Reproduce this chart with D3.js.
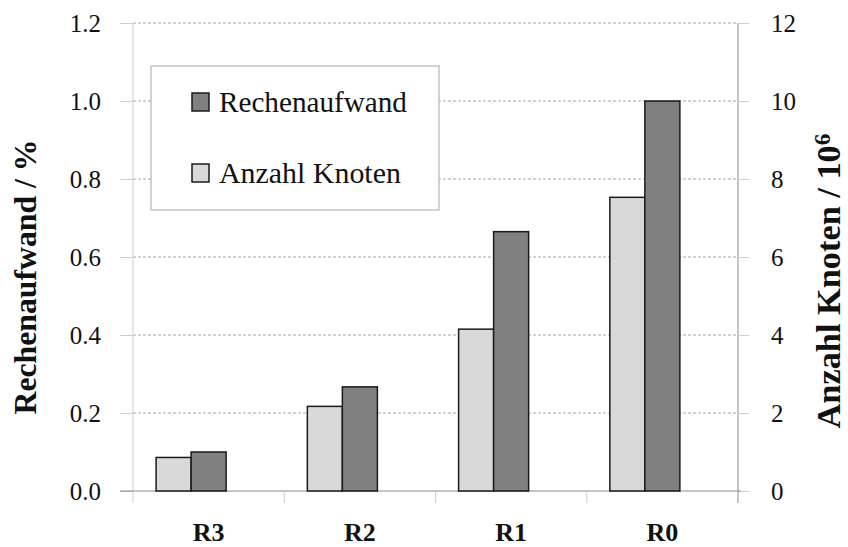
<!DOCTYPE html>
<html>
<head>
<meta charset="utf-8">
<script src="https://cdn.jsdelivr.net/npm/d3@7.9.0/dist/d3.min.js"></script>
<style>
  body { margin: 0; background: #fff; }
</style>
</head>
<body>
<svg id="chart" width="848" height="547"></svg>
<script>
// data
const categories = ["R3", "R2", "R1", "R0"];
const rechenaufwand = [0.1, 0.267, 0.665, 1.0];     // left axis, %
const anzahlKnoten = [0.86, 2.17, 4.15, 7.53];       // right axis, 10^6
const leftTicks = [0, 0.2, 0.4, 0.6, 0.8, 1.0, 1.2];
const rightTicks = [0, 2, 4, 6, 8, 10, 12];

const FONT = "'Liberation Serif', 'DejaVu Serif', 'Noto Serif', 'Times New Roman', Times, serif";

const svg = d3.select("#chart");
const plotLeft = 133, plotRight = 738, plotTop = 23, plotBottom = 491;

// scale a text's font size so it spans the wanted width
function fitWidth(sel, width) {
  const node = sel.node();
  const size = parseFloat(sel.style("font-size"));
  const len = node.getComputedTextLength();
  const newSize = size * width / len;
  sel.style("font-size", newSize + "px");
  return newSize;
}

const x = d3.scaleBand().domain(categories).range([plotLeft, plotRight]);
// third slot stays empty, so the bars sit left of the band centre (as in the original)
const xSub = d3.scaleBand().domain(["knoten", "aufwand", "leer"])
  .range([0, x.bandwidth()]).paddingOuter(0.66);
const yL = d3.scaleLinear().domain([0, 1.2]).range([plotBottom, plotTop]);
const yR = d3.scaleLinear().domain([0, 12]).range([plotBottom, plotTop]);

// gridlines
svg.append("g").selectAll("line")
  .data(leftTicks.slice(1))
  .join("line")
  .attr("x1", plotLeft).attr("x2", plotRight)
  .attr("y1", d => yL(d)).attr("y2", d => yL(d))
  .attr("stroke", "#a6a6a6").attr("stroke-width", 1)
  .attr("stroke-dasharray", "3,2");

// tick label size, fitted on "1.2" (34px wide in the original)
const probe = svg.append("text").style("font-family", FONT).style("font-size", "26px").text("1.2");
const tickSize = Math.min(25, fitWidth(probe, 34));
probe.remove();

// left axis
const gL = svg.append("g").attr("transform", `translate(${plotLeft},0)`)
  .call(d3.axisLeft(yL).tickValues(leftTicks).tickFormat(d3.format(".1f")).tickSize(13).tickPadding(19));
gL.select(".domain").attr("stroke", "#cfcfcf").attr("d", `M0,${plotTop}V${plotBottom + 12}`);
gL.selectAll(".tick line").attr("stroke", "#cfcfcf");
gL.selectAll(".tick text").style("font-family", FONT).style("font-size", tickSize + "px").attr("fill", "#111");

// right axis
const gR = svg.append("g").attr("transform", `translate(${plotRight},0)`)
  .call(d3.axisRight(yR).tickValues(rightTicks).tickSize(11).tickPadding(22));
gR.select(".domain").attr("stroke", "#8c8c8c").attr("d", `M0,${plotTop}V${plotBottom + 12}`);
gR.selectAll(".tick line").attr("stroke", "#cfcfcf");
gR.selectAll(".tick text").style("font-family", FONT).style("font-size", tickSize + "px").attr("fill", "#111");

// bottom axis
svg.append("line")
  .attr("x1", plotLeft - 13).attr("x2", plotRight + 3)
  .attr("y1", plotBottom).attr("y2", plotBottom)
  .attr("stroke", "#8c8c8c").attr("stroke-width", 1.2);
svg.append("g").selectAll("line")
  .data(categories.slice(1))
  .join("line")
  .attr("x1", d => x(d)).attr("x2", d => x(d))
  .attr("y1", plotBottom).attr("y2", plotBottom + 12)
  .attr("stroke", "#cfcfcf");

// bars
const groups = svg.append("g").selectAll("g")
  .data(categories)
  .join("g")
  .attr("transform", d => `translate(${x(d)},0)`);

groups.append("rect")
  .attr("x", xSub("knoten"))
  .attr("width", xSub.bandwidth())
  .attr("y", (d, i) => yR(anzahlKnoten[i]))
  .attr("height", (d, i) => plotBottom - yR(anzahlKnoten[i]))
  .attr("fill", "#d9d9d9").attr("stroke", "#1a1a1a").attr("stroke-width", 1.5);

groups.append("rect")
  .attr("x", xSub("aufwand"))
  .attr("width", xSub.bandwidth())
  .attr("y", (d, i) => yL(rechenaufwand[i]))
  .attr("height", (d, i) => plotBottom - yL(rechenaufwand[i]))
  .attr("fill", "#808080").attr("stroke", "#1a1a1a").attr("stroke-width", 1.5);

// category labels, centred on the bands
const catLabels = groups.append("text")
  .attr("x", x.bandwidth() / 2)
  .attr("y", 541)
  .attr("text-anchor", "middle")
  .attr("fill", "#111")
  .style("font-family", FONT).style("font-size", "26px").style("font-weight", "bold")
  .text(d => d);
const catSize = Math.min(26, fitWidth(catLabels.filter(d => d === "R3"), 37));
catLabels.style("font-size", catSize + "px");

// axis titles
const lt = svg.append("text")
  .attr("transform", "translate(36,277) rotate(-90)")
  .attr("text-anchor", "middle")
  .attr("fill", "#111")
  .style("font-family", FONT).style("font-size", "25px").style("font-weight", "bold")
  .text("Rechenaufwand / %");
fitWidth(lt, 275);

const rt = svg.append("text")
  .attr("transform", "translate(840,281) rotate(-90)")
  .attr("text-anchor", "middle")
  .attr("fill", "#111")
  .style("font-family", FONT).style("font-size", "25px").style("font-weight", "bold");
rt.append("tspan").text("Anzahl Knoten / 10");
rt.append("tspan").attr("dy", -10).style("font-size", "0.68em").text("6");
fitWidth(rt, 295);

// legend
const legend = svg.append("g");
legend.append("rect")
  .attr("x", 151).attr("y", 66).attr("width", 288).attr("height", 144)
  .attr("fill", "#fff").attr("stroke", "#b5b5b5").attr("stroke-width", 1.2);

const legendItems = [
  { label: "Rechenaufwand", color: "#808080", y: 93, width: 188 },
  { label: "Anzahl Knoten", color: "#d9d9d9", y: 164, width: 182 }
];
legendItems.forEach(item => {
  legend.append("rect")
    .attr("x", 192).attr("y", item.y).attr("width", 17).attr("height", 18)
    .attr("fill", item.color).attr("stroke", "#1a1a1a").attr("stroke-width", 1.5);
  const t = legend.append("text")
    .attr("x", 219).attr("y", item.y + 19)
    .attr("fill", "#111")
    .style("font-family", FONT).style("font-size", "27px")
    .text(item.label);
  fitWidth(t, item.width);
});
</script>
</body>
</html>
